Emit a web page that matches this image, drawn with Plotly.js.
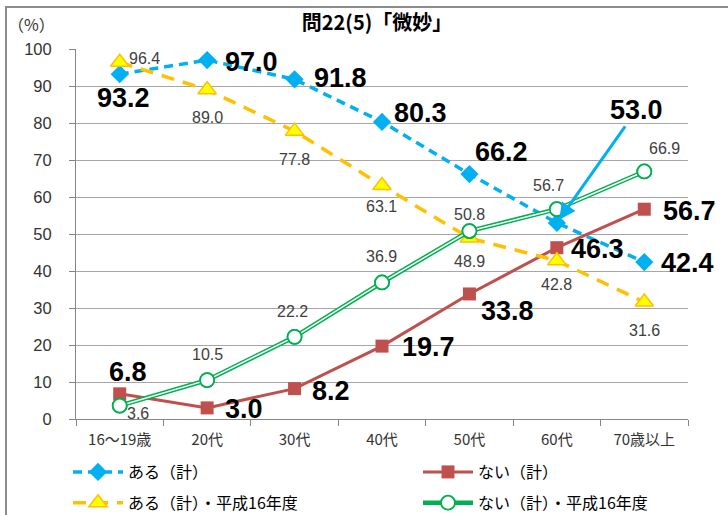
<!DOCTYPE html>
<html><head><meta charset="utf-8">
<script src="https://cdn.plot.ly/plotly-3.0.1.min.js"></script>
<style>
html,body{margin:0;padding:0;background:#fff;}
#wrap{position:relative;width:728px;height:515px;overflow:hidden;}
#chart{width:728px;height:515px;}
#frame{position:absolute;left:5px;top:6px;width:740px;height:540px;border:2px solid #8c8c8c;pointer-events:none;box-sizing:border-box;}
</style></head>
<body><div id="wrap"><div id="chart"></div><div id="frame"></div></div>
<script>
// ---- data ----
const categories = ["16～19歳","20代","30代","40代","50代","60代","70歳以上"];
const aru      = [93.2, 97.0, 91.8, 80.3, 66.2, 53.0, 42.4];
const nai      = [6.8, 3.0, 8.2, 19.7, 33.8, 46.3, 56.7];
const aruH16   = [96.4, 89.0, 77.8, 63.1, 48.9, 42.8, 31.6];
const naiH16   = [3.6, 10.5, 22.2, 36.9, 50.8, 56.7, 66.9];
const seriesNames = ["ある（計）","ない（計）","ある（計）・平成16年度","ない（計）・平成16年度"];
const yTicks = [0,10,20,30,40,50,60,70,80,90,100];

// ---- label offsets (styling) [dx, dy] in px, dy positive = down ----
const offAru    = [[4,24],[44,2],[46,-1],[38,-9],[32,-22],null,[43,1]];
const arrowAru  = {idx:5, ax:80, ay:-113};
const offNai    = [[8,-22],[37,1],[36,2],[46,1],[38,17],[41,1],[45,2]];
const offAruH16 = [[25,-4],[0,28],[0,28],[-1,21],[0,23],[0,24],[0,28]];
const offNaiH16 = [[18,8],[0,-26],[-2,-25],[-1,-26],[0,-17],[-8,-24],[20,-23]];

const BLUE="#00B0F0", RED="#C0504D", YEL="#FFC000", GRN="#00B050";
const FONT = "Liberation Sans, Arial, Noto Sans CJK JP, sans-serif";
const JFONT = "Noto Sans CJK JP, Liberation Sans, sans-serif";

const W=728, H=515, ML=76, MR=40, MT=49, MB=96;
const PW=W-ML-MR, PH=H-MT-MB;

const traces = [
  {x:categories, y:aru, name:seriesNames[0], type:"scatter", mode:"lines+markers", legend:"legend", legendgroup:"a",
   line:{color:BLUE, width:3.5, dash:"9px,6px"},
   marker:{symbol:"diamond", size:14, color:BLUE}},
  {x:categories, y:nai, name:seriesNames[1], type:"scatter", mode:"lines+markers", legend:"legend2", legendgroup:"b",
   line:{color:RED, width:3}, marker:{symbol:"square", size:13, color:RED}},
  {x:categories, y:aruH16, name:seriesNames[2], type:"scatter", mode:"lines+markers", legend:"legend", legendgroup:"c",
   line:{color:YEL, width:3.5, dash:"13px,9px"},
   marker:{symbol:"triangle-up", size:16, color:"#FFFF00", line:{color:YEL, width:1.5}}},
  {x:categories, y:naiH16, name:seriesNames[3], type:"scatter", mode:"lines+markers", legend:"legend2", legendgroup:"d",
   line:{color:GRN, width:4.5},
   marker:{symbol:"circle", size:14, color:"#fff", line:{color:GRN, width:1.8}}},
  {x:categories, y:naiH16, type:"scatter", mode:"lines", showlegend:false, hoverinfo:"skip",
   line:{color:"#fff", width:1.5}},
  {x:categories, y:naiH16, type:"scatter", mode:"markers", showlegend:false, hoverinfo:"skip",
   marker:{symbol:"circle", size:14, color:"#fff", line:{color:GRN, width:1.8}}}
];

const annotations = [];
function addLabels(vals, offs, big){
  vals.forEach((v,i)=>{
    const o = offs[i]; if(!o) return;
    annotations.push({x:categories[i], y:v, xref:"x", yref:"y", text:v.toFixed(1),
      showarrow:false, xanchor:"center", yanchor:"middle", xshift:o[0], yshift:-o[1],
      font: big ? {family:FONT, size:27, color:"#000", weight:"bold"} : {family:FONT, size:16, color:"#404040"}});
  });
}
addLabels(aru, offAru, true);
addLabels(nai, offNai, true);
addLabels(aruH16, offAruH16, false);
addLabels(naiH16, offNaiH16, false);
annotations.push({x:categories[arrowAru.idx], y:aru[arrowAru.idx], xref:"x", yref:"y",
  text:aru[arrowAru.idx].toFixed(1), showarrow:true, ax:arrowAru.ax, ay:arrowAru.ay,
  arrowcolor:BLUE, arrowwidth:3, arrowhead:2, arrowsize:1.1, standoff:4,
  font:{family:FONT, size:27, color:"#000", weight:"bold"}});
annotations.push({xref:"paper", yref:"paper", x:(31-ML)/PW, y:(H-MB-24)/PH, text:"（%）",
  showarrow:false, xanchor:"center", yanchor:"middle", font:{family:JFONT, size:16, color:"#333"}});

const legendBase = {orientation:"v", xanchor:"left", yanchor:"top", xref:"container", yref:"container",
  itemwidth:50, tracegroupgap:7, traceorder:"grouped", bgcolor:"rgba(0,0,0,0)",
  font:{family:JFONT, size:16, color:"#000"}};

const layout = {
  width:W, height:H,
  margin:{l:ML, r:MR, t:MT, b:MB, autoexpand:false},
  paper_bgcolor:"#fff", plot_bgcolor:"#fff",
  font:{family:JFONT, size:15, color:"#333"},
  title:{text:"問22(5)「微妙」", x:377/W, xref:"container", xanchor:"center",
         y:1-23/H, yref:"container", yanchor:"middle",
         font:{family:JFONT, size:20, color:"#000", weight:"bold"}},
  xaxis:{type:"category", categoryarray:categories, range:[-0.5,6.5], showgrid:false,
         showline:true, linecolor:"#868686", linewidth:1, ticks:"outside", tickson:"boundaries",
         ticklen:6, tickcolor:"#868686", tickfont:{family:JFONT, size:15, color:"#333"}, ticklabelstandoff:7,
         zeroline:false, fixedrange:true},
  yaxis:{range:[0,100], tickvals:yTicks, ticktext:yTicks.map(String), showgrid:true, gridcolor:"#a6a6a6", gridwidth:1,
         showline:true, linecolor:"#868686", linewidth:1, ticks:"outside", ticklen:6, tickcolor:"#868686",
         tickfont:{family:FONT, size:16.5, color:"#333"}, ticklabelstandoff:14, zeroline:false, fixedrange:true},
  legend: Object.assign({}, legendBase, {x:68/W, y:1-455/H}),
  legend2: Object.assign({}, legendBase, {x:418/W, y:1-455/H}),
  annotations: annotations,
  showlegend:true
};
Plotly.newPlot("chart", traces, layout, {displayModeBar:false, staticPlot:true});
</script></body></html>
